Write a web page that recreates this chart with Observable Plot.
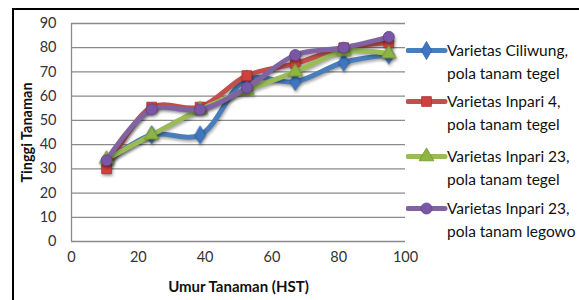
<!DOCTYPE html>
<html>
<head>
<meta charset="utf-8">
<script src="https://cdn.jsdelivr.net/npm/d3@7"></script>
<script src="https://cdn.jsdelivr.net/npm/@observablehq/plot@0.6"></script>
<style>
  body { margin: 0; background: #fff; }
  #wrap { position: relative; width: 579px; height: 300px; overflow: hidden; font-family: Lato, "Open Sans", sans-serif; }
  #border { position: absolute; left: 12px; top: 8px; right: -10px; bottom: -10px; border-left: 2px solid #000; border-top: 2px solid #000; }
  #legend { position: absolute; left: 406px; top: 0; }
  .item { position: absolute; left: 0; width: 175px; }
  .item svg { position: absolute; left: 0; top: 0; }
  .item .txt { position: absolute; left: 41px; top: 0; font-size: 15.5px; line-height: 23px; color: #111; white-space: nowrap; }
  .shadow { filter: drop-shadow(1px 2px 1.5px rgba(0,0,0,0.35)); }
</style>
</head>
<body>
<div id="wrap"><div id="border"></div><div id="legend"></div></div>
<script>
const hst = [10.5, 24, 38.5, 52.5, 67, 81.5, 95];
const seriesNames = [
  ["Varietas Ciliwung,", "pola tanam tegel"],
  ["Varietas Inpari 4,", "pola tanam tegel"],
  ["Varietas Inpari 23,", "pola tanam tegel"],
  ["Varietas Inpari 23,", "pola tanam legowo"]
];
const ciliwung = [33, 44, 44, 67, 66, 74, 77];
const inpari4 = [30, 55.5, 55.5, 68.5, 73.5, 80, 82];
const inpari23Tegel = [34, 44, 54.5, 62.5, 70, 78.5, 77.5];
const inpari23Legowo = [33.5, 54.5, 54.5, 63.5, 77, 80, 84.5];
const colors = ["#4a7ebb", "#c0504d", "#9bbb59", "#8064a2"];
const markFill = ["#3d77c4", "#d0403c", "#8db543", "#7a56a6"];
const symbols = ["diamond", "square", "triangle", "circle"];
const xTicks = [0, 20, 40, 60, 80, 100];
const yTicks = [0, 10, 20, 30, 40, 50, 60, 70, 80, 90];

const allSeries = [ciliwung, inpari4, inpari23Tegel, inpari23Legowo];
const marks = [
  Plot.gridY(yTicks, {stroke: "#8a8a8a", strokeOpacity: 1, strokeWidth: 1.3}),
  Plot.ruleX([0], {stroke: "#8a8a8a", strokeWidth: 1.3}),
  Plot.axisX(xTicks, {tickSize: 0, tickPadding: 10, label: null, fontSize: 14.5, fill: "#333"}),
  Plot.axisY(yTicks, {tickSize: 0, tickPadding: 15, label: null, fontSize: 14.5, fill: "#333"}),
  Plot.text(["Umur Tanaman (HST)"], {frameAnchor: "bottom", dy: 50, fontSize: 15, fontWeight: "bold", fill: "#111"}),
  Plot.text(["Tinggi Tanaman"], {frameAnchor: "left", dx: -44, rotate: -90, textAnchor: "middle", fontSize: 14.5, fontWeight: "bold", fill: "#111"})
];
allSeries.forEach((vals, i) => {
  const data = hst.map((x, j) => ({x, y: vals[j]}));
  marks.push(Plot.line(data, {x: "x", y: "y", stroke: colors[i], strokeWidth: 5, curve: "catmull-rom", className: "shadow"}));
  marks.push(Plot.dot(data, {x: "x", y: "y", symbol: symbols[i], r: 5.5, fill: markFill[i], stroke: d3.color(markFill[i]).darker(0.6).formatHex(), strokeWidth: 0.8, className: "shadow"}));
});

const chart = Plot.plot({
  width: 579, height: 300,
  marginLeft: 71, marginRight: 174, marginTop: 23, marginBottom: 59,
  style: {fontFamily: "Lato, 'Open Sans', sans-serif", fontSize: "14px", background: "transparent"},
  x: {domain: [0, 100]},
  y: {domain: [0, 90]},
  marks
});
chart.style.position = "absolute";
chart.style.left = "0px";
chart.style.top = "0px";
document.getElementById("wrap").appendChild(chart);

// legend
const legend = document.getElementById("legend");
const legendTops = [38.5, 90, 145, 197];
seriesNames.forEach((lines, i) => {
  const item = document.createElement("div");
  item.className = "item";
  item.style.top = legendTops[i] + "px";
  const s = d3.create("svg").attr("width", 42).attr("height", 23);
  s.append("line").attr("x1", 2).attr("x2", 39).attr("y1", 11.5).attr("y2", 11.5)
    .attr("stroke", colors[i]).attr("stroke-width", 5).attr("stroke-linecap", "round");
  s.append("path").attr("d", d3.symbol(d3["symbol" + symbols[i][0].toUpperCase() + symbols[i].slice(1)], 95)())
    .attr("transform", "translate(20.5,11.5)").attr("fill", markFill[i])
    .attr("stroke", d3.color(markFill[i]).darker(0.6).formatHex()).attr("stroke-width", 0.8);
  item.appendChild(s.node());
  const t = document.createElement("div");
  t.className = "txt";
  t.innerHTML = lines.join("<br>");
  item.appendChild(t);
  legend.appendChild(item);
});
</script>
</body>
</html>
